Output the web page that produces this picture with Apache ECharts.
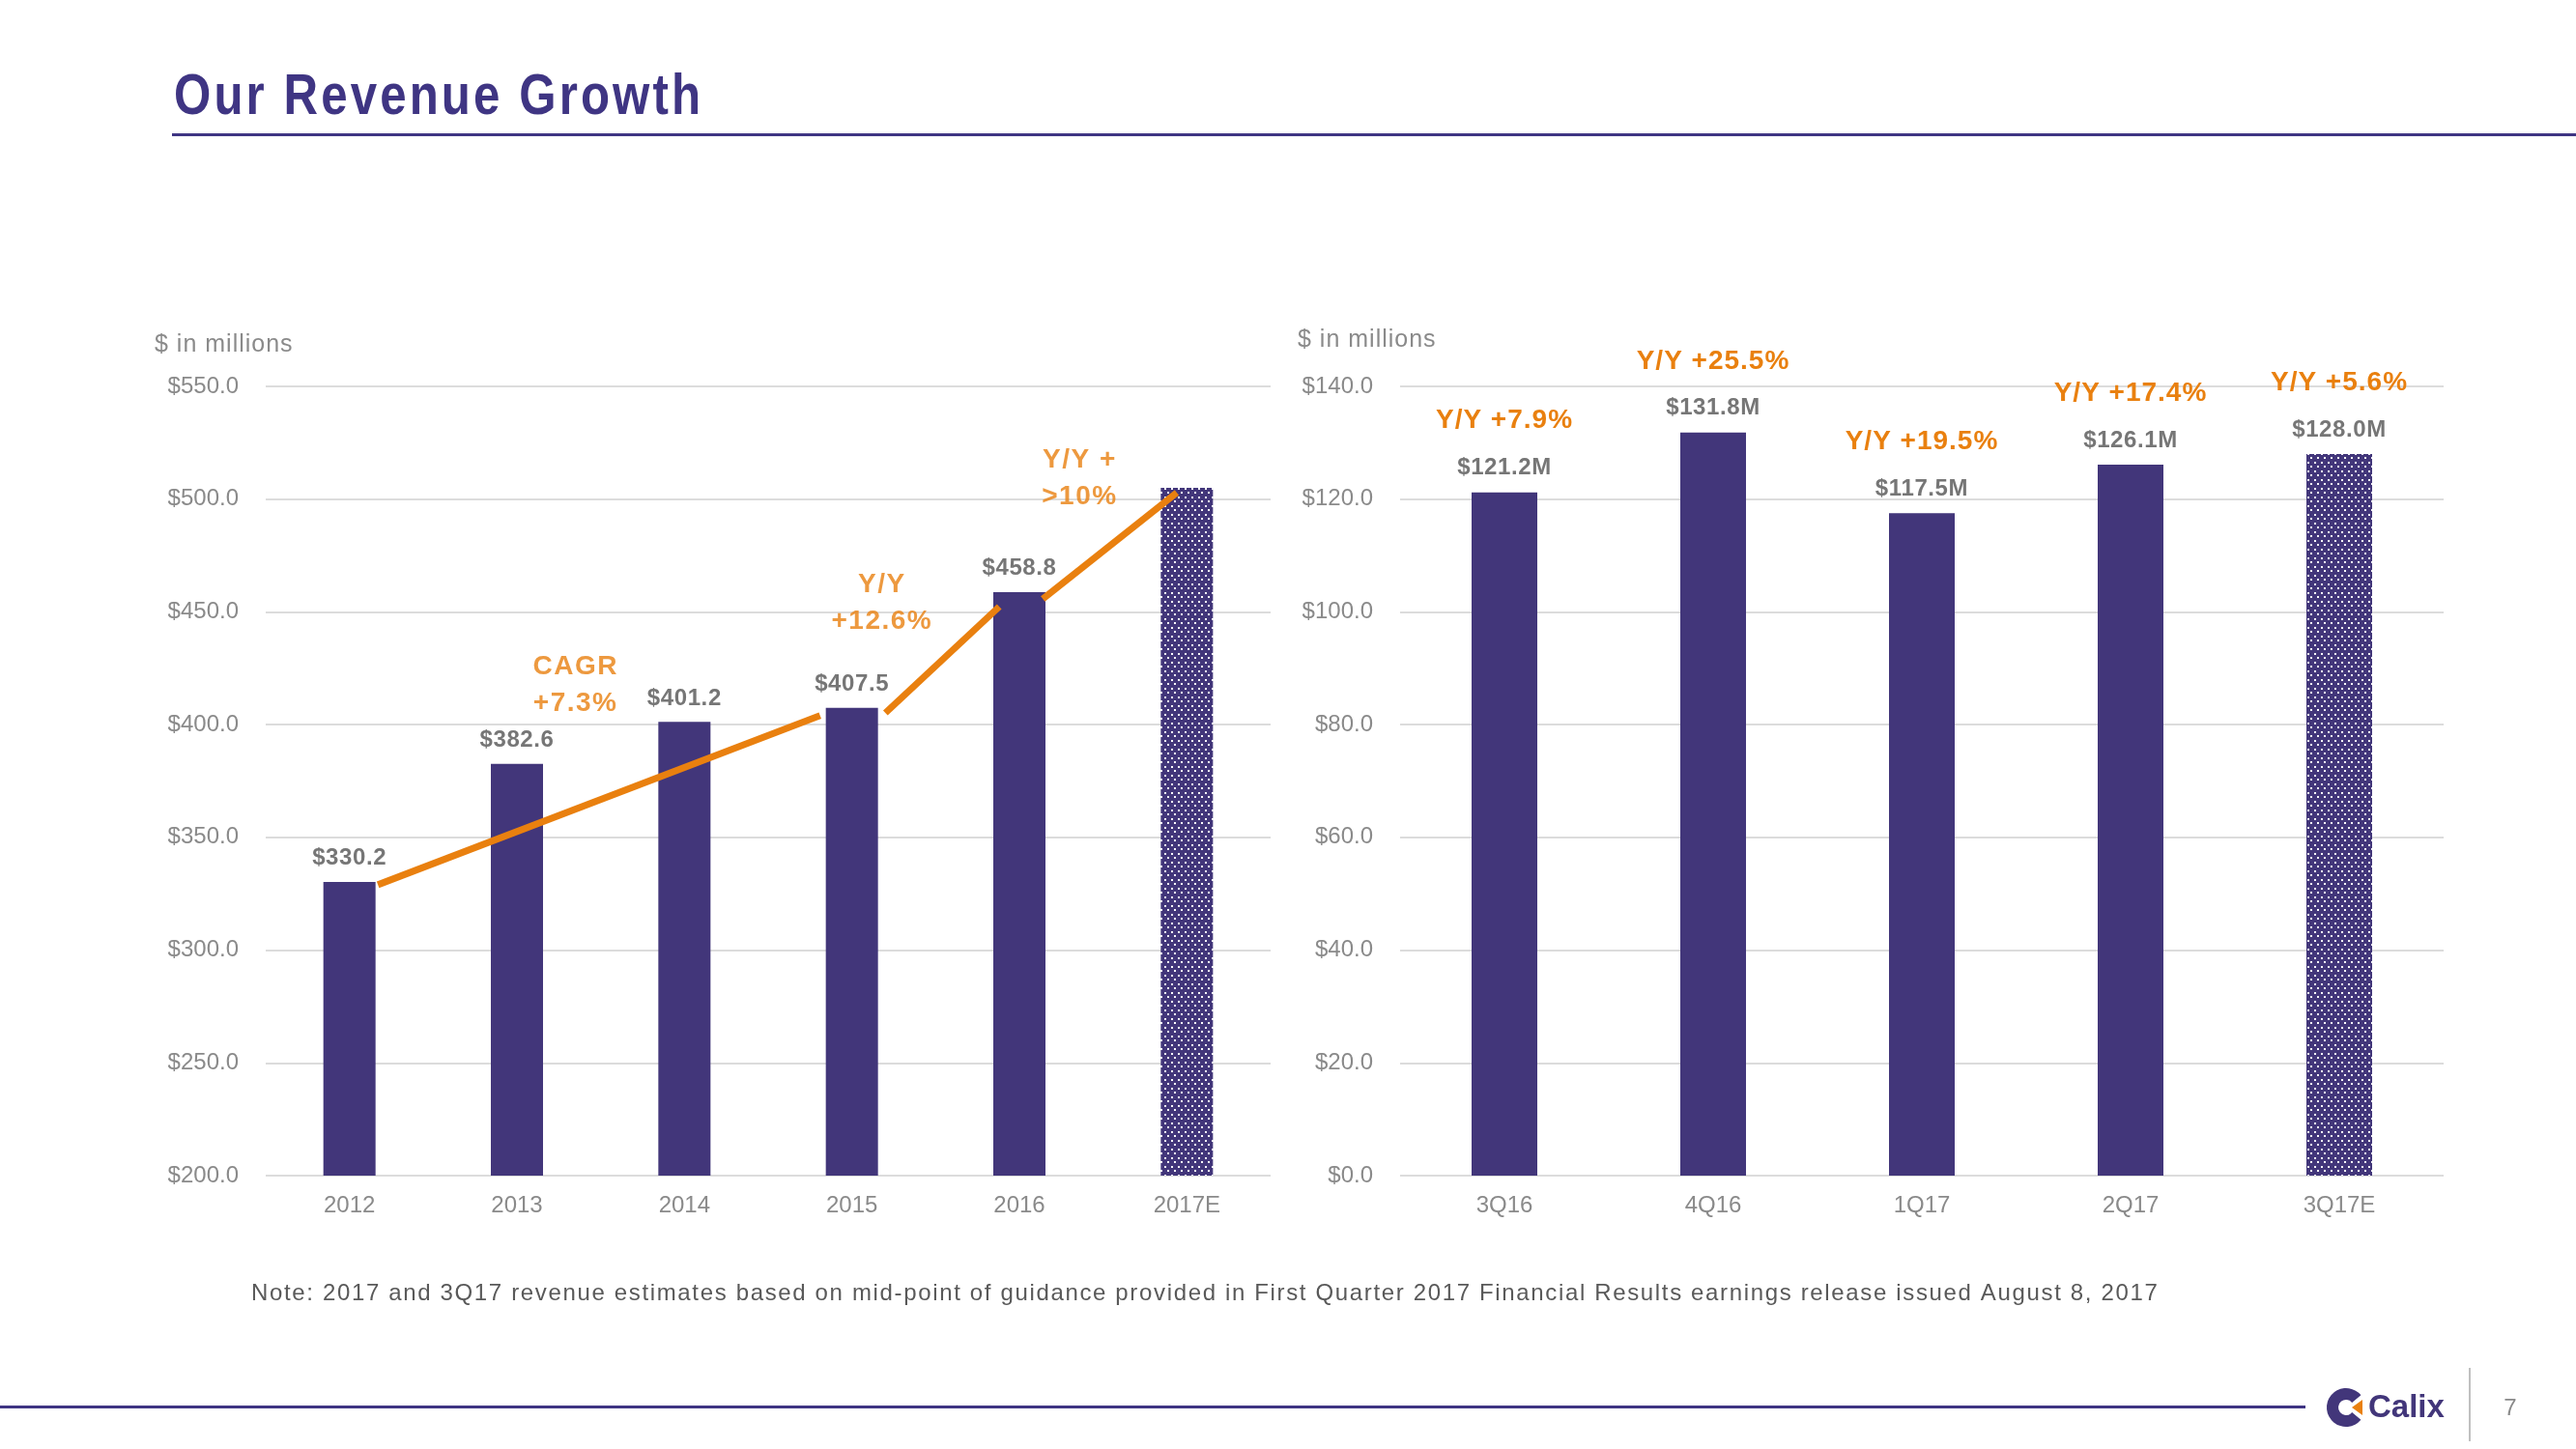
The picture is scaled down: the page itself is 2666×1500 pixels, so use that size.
<!DOCTYPE html>
<html>
<head>
<meta charset="utf-8">
<script src="https://cdn.jsdelivr.net/npm/echarts@6/dist/echarts.min.js"></script>
<style>
html,body{margin:0;padding:0;background:#fff;}
#chart{width:2666px;height:1500px;}
</style>
</head>
<body>
<div id="chart"></div>
<script>
// ---- data ----
const years = ['2012', '2013', '2014', '2015', '2016', '2017E'];
const annualRevenue = [330.2, 382.6, 401.2, 407.5, 458.8, 505.0];
const annualIsEstimate = [false, false, false, false, false, true];
const annualTicks = { min: 200, max: 550, interval: 50 };

const quarters = ['3Q16', '4Q16', '1Q17', '2Q17', '3Q17E'];
const quarterRevenue = [121.2, 131.8, 117.5, 126.1, 128.0];
const quarterYoY = ['+7.9%', '+25.5%', '+19.5%', '+17.4%', '+5.6%'];
const quarterIsEstimate = [false, false, false, false, true];
const quarterTicks = { min: 0, max: 140, interval: 20 };

// orange growth trend segments, in [category position, $M]
const trendSegments = [
  [[0.17, 329.0], [2.81, 404.0]],
  [[3.20, 405.2], [3.88, 452.3]],
  [[4.14, 455.8], [4.94, 502.9]]
];
// orange annotations, in [category position, $M]
const annualNotes = [
  { text: 'CAGR\n+7.3%', at: [1.35, 417.6] },
  { text: 'Y/Y\n+12.6%', at: [3.18, 454.0] },
  { text: 'Y/Y +\n>10%', at: [4.36, 509.3] }
];
const noteText = 'Note: 2017 and 3Q17 revenue estimates based on mid-point of guidance provided in First Quarter 2017 Financial Results earnings release issued August 8, 2017';

// ---- letter spacing support (marker family "spN" in font string) ----
(function () {
  const P = window.CanvasRenderingContext2D && CanvasRenderingContext2D.prototype;
  if (!P) return;
  const d = Object.getOwnPropertyDescriptor(P, 'font');
  if (!d || !('letterSpacing' in P)) return;
  Object.defineProperty(P, 'font', {
    configurable: true,
    enumerable: d.enumerable,
    get() { return d.get.call(this); },
    set(v) {
      d.set.call(this, v);
      const m = /sp(\d+(?:\.\d+)?)/.exec(String(v));
      try { this.letterSpacing = m ? m[1] + 'px' : '0px'; } catch (e) {}
    }
  });
})();
const fam = sp => '"Liberation Sans", "sp' + sp + '", Arial, sans-serif';

// ---- styles ----
const PURPLE = '#42367A';
const TITLE_PURPLE = '#3F3583';
const ORANGE = '#E9800F';
const GRID_GRAY = '#dcdcdc';
const TICK_GRAY = '#8a8a8a';
const LABEL_GRAY = '#767676';
const FONT = '"Liberation Sans", Arial, sans-serif';

function makePattern() {
  const c = document.createElement('canvas');
  c.width = 7; c.height = 9;
  const ctx = c.getContext('2d');
  ctx.fillStyle = PURPLE;
  ctx.fillRect(0, 0, 7, 9);
  ctx.fillStyle = '#ffffff';
  ctx.fillRect(1, 1, 2, 2);
  ctx.fillRect(4, 5, 2, 2);
  return c;
}
const dotted = { image: makePattern(), repeat: 'repeat' };

const chart = echarts.init(document.getElementById('chart'), null, { renderer: 'canvas' });

const money = v => '$' + v.toFixed(1);

const annualData = annualRevenue.map((v, i) => ({
  value: v,
  itemStyle: { color: annualIsEstimate[i] ? dotted : PURPLE },
  label: { show: !annualIsEstimate[i] }
}));

const quarterData = quarterRevenue.map((v, i) => ({
  value: v,
  itemStyle: { color: quarterIsEstimate[i] ? dotted : PURPLE }
}));

const yAxisCommon = {
  type: 'value',
  axisLine: { show: false },
  axisTick: { show: false },
  splitLine: { show: true, lineStyle: { color: GRID_GRAY, width: 2 } },
  axisLabel: { color: TICK_GRAY, fontSize: 24, fontFamily: FONT, margin: 28, formatter: money }
};
const catAxisCommon = {
  type: 'category',
  axisLine: { show: false },
  axisTick: { show: false },
  axisLabel: { color: TICK_GRAY, fontSize: 24, fontFamily: FONT, margin: 19 }
};

const series = [
  {
    type: 'bar', xAxisIndex: 0, yAxisIndex: 0, data: annualData, barWidth: 54,
    label: {
      show: true, position: 'top', distance: 12,
      color: LABEL_GRAY, fontSize: 24, fontWeight: 'bold', fontFamily: fam(0.6),
      formatter: p => money(p.value)
    },
    z: 2
  },
  {
    type: 'bar', xAxisIndex: 2, yAxisIndex: 1, data: quarterData, barWidth: 68,
    label: {
      show: true, position: 'top', distance: 11,
      formatter: p => '{a|Y/Y ' + quarterYoY[p.dataIndex] + '}\n{b|$' + p.value.toFixed(1) + 'M}',
      rich: {
        a: { color: ORANGE, fontSize: 28, fontWeight: 'bold', fontFamily: fam(1), lineHeight: 70 },
        b: { color: LABEL_GRAY, fontSize: 24, fontWeight: 'bold', fontFamily: fam(0.6), lineHeight: 28 }
      }
    }
  }
];
trendSegments.forEach(seg => {
  series.push({
    type: 'line', xAxisIndex: 1, yAxisIndex: 0, data: seg,
    symbol: 'none', silent: true, z: 5,
    lineStyle: { color: ORANGE, width: 7, cap: 'butt' }
  });
});
series.push({
  type: 'scatter', xAxisIndex: 1, yAxisIndex: 0, symbolSize: 0, silent: true, z: 6,
  data: annualNotes.map(n => ({ value: n.at, name: n.text })),
  label: {
    show: true, position: 'inside', formatter: p => p.name,
    color: ORANGE, fontSize: 28, fontWeight: 'bold', fontFamily: fam(1.5), lineHeight: 38, align: 'center'
  }
});

const option = {
  animation: false,
  backgroundColor: '#ffffff',
  grid: [
    { left: 275, top: 400, width: 1040, height: 817 },
    { left: 1449, top: 400, width: 1080, height: 817 }
  ],
  xAxis: [
    Object.assign({}, catAxisCommon, { gridIndex: 0, data: years }),
    { type: 'value', gridIndex: 0, min: -0.5, max: 5.5, show: false },
    Object.assign({}, catAxisCommon, { gridIndex: 1, data: quarters })
  ],
  yAxis: [
    Object.assign({}, yAxisCommon, { gridIndex: 0, min: annualTicks.min, max: annualTicks.max, interval: annualTicks.interval }),
    Object.assign({}, yAxisCommon, { gridIndex: 1, min: quarterTicks.min, max: quarterTicks.max, interval: quarterTicks.interval })
  ],
  series: series,
  graphic: [
    { type: 'text', x: 180, y: 101, scaleX: 0.82, style: { text: 'Our Revenue Growth', fill: TITLE_PURPLE, font: 'bold 60px ' + fam(3.8), verticalAlign: 'middle' } },
    { type: 'rect', shape: { x: 178, y: 138, width: 2488, height: 3 }, style: { fill: TITLE_PURPLE } },
    { type: 'text', x: 160, y: 357, style: { text: '$ in millions', fill: TICK_GRAY, font: '25px ' + fam(1), verticalAlign: 'middle' } },
    { type: 'text', x: 1343, y: 352, style: { text: '$ in millions', fill: TICK_GRAY, font: '25px ' + fam(1), verticalAlign: 'middle' } },
    { type: 'text', x: 260, y: 1339, style: { text: noteText, fill: '#595959', font: '24px ' + fam(1.65), verticalAlign: 'middle' } },
    { type: 'rect', shape: { x: 0, y: 1455, width: 2386, height: 3 }, style: { fill: TITLE_PURPLE } },
    // Calix logo
    { type: 'sector', shape: { cx: 2428, cy: 1457, r: 20, r0: 8, startAngle: Math.PI * 0.22, endAngle: Math.PI * 1.78 }, style: { fill: PURPLE } },
    { type: 'polygon', shape: { points: [[2434, 1457], [2445, 1449], [2445, 1465]] }, style: { fill: ORANGE } },
    { type: 'text', x: 2451, y: 1458, style: { text: 'Calix', fill: PURPLE, font: 'bold 33px ' + FONT, verticalAlign: 'middle' } },
    { type: 'rect', shape: { x: 2555, y: 1416, width: 2, height: 76 }, style: { fill: '#c0c0c0' } },
    { type: 'text', x: 2598, y: 1458, style: { text: '7', fill: TICK_GRAY, font: '24px ' + FONT, verticalAlign: 'middle', align: 'center' } }
  ]
};
chart.setOption(option);
</script>
</body>
</html>
